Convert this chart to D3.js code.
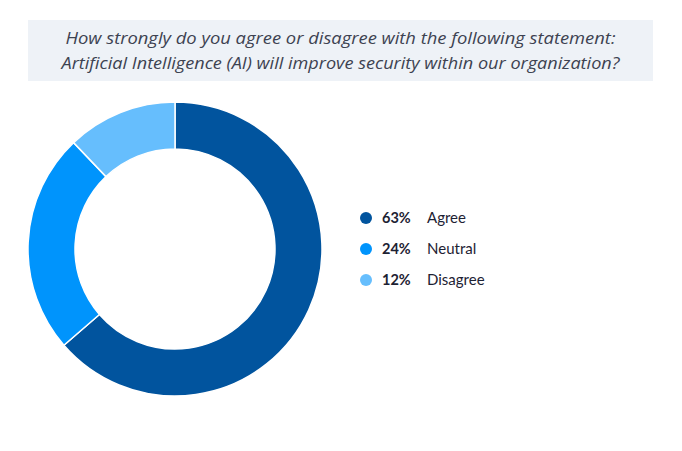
<!DOCTYPE html>
<html lang="en">
<head>
  <meta charset="UTF-8">
  <style>
    body { margin: 0; background: #fff; }
    svg { display: block; font-family: Lato, "Open Sans", sans-serif; }
    .title { font-family: "Open Sans", sans-serif; font-style: italic; font-size: 17px; fill: #3d4251; }
    .pct { font-weight: 700; font-size: 14.5px; fill: #1d2233; }
    .lbl { font-size: 15px; fill: #1d2233; }
  </style>
</head>
<body>
  <svg id="chart" width="682" height="451"></svg>
  <script src="https://cdnjs.cloudflare.com/ajax/libs/d3/7.8.5/d3.min.js"></script>
  <script>
    const titleLines = [
      'How strongly do you agree or disagree with the following statement:',
      'Artificial Intelligence (AI) will improve security within our organization?'
    ]
    const titleWidths = [550, 558]
    const categories = ['Agree', 'Neutral', 'Disagree']
    const values = [63, 24, 12]
    const colors = ['#01549e', '#0094fc', '#66befd']

    const width = 682, height = 451
    const center = { x: 175, y: 249 }
    const outerR = 147, innerR = 100

    const svg = d3.select('#chart')

    // Title box
    // =========
    svg.append('rect')
        .attr('x', 28)
        .attr('y', 20)
        .attr('width', 625)
        .attr('height', 61)
        .attr('fill', '#eef2f7')
    svg.append('g')
      .selectAll('text')
        .data(titleLines)
      .enter().append('text')
        .attr('class', 'title')
        .attr('x', 340.5)
        .attr('y', (d, i) => 44 + i * 25)
        .attr('text-anchor', 'middle')
        .attr('textLength', (d, i) => titleWidths[i])
        .attr('lengthAdjust', 'spacingAndGlyphs')
        .text(d => d)

    // Donut
    // =====
    const pie = d3.pie()
      .sort(null)
      .value(d => d.value)
    const arc = d3.arc()
      .innerRadius(innerR)
      .outerRadius(outerR)

    const data = categories.map((c, i) => ({ name: c, value: values[i], color: colors[i] }))

    svg.append('g')
        .attr('transform', `translate(${center.x}, ${center.y})`)
      .selectAll('path')
        .data(pie(data))
      .enter().append('path')
        .attr('d', arc)
        .attr('fill', d => d.data.color)
        .attr('stroke', '#fff')
        .attr('stroke-width', 1.5)

    // Legend
    // ======
    const legendY = d3.scalePoint()
      .domain(categories)
      .range([218, 280])

    const legend = svg.append('g')
      .selectAll('g')
        .data(data)
      .enter().append('g')
        .attr('transform', d => `translate(366, ${legendY(d.name)})`)
    legend.append('circle')
        .attr('r', 6)
        .attr('fill', d => d.color)
    legend.append('text')
        .attr('class', 'pct')
        .attr('x', 16)
        .attr('dy', '0.35em')
        .text(d => d.value + '%')
    legend.append('text')
        .attr('class', 'lbl')
        .attr('x', 61)
        .attr('dy', '0.35em')
        .text(d => d.name)
  </script>
</body>
</html>
